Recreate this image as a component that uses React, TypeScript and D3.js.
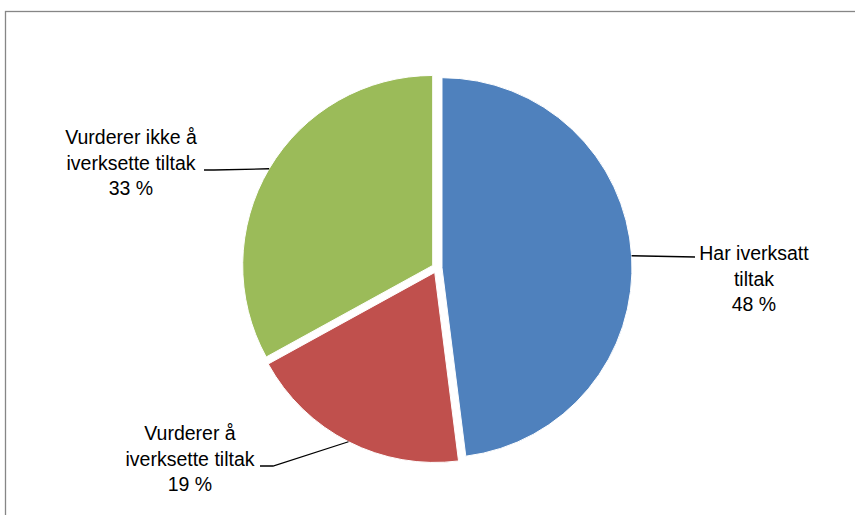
import React from 'react'
import * as d3 from 'd3'

const categories = ['Har iverksatt tiltak', 'Vurderer å iverksette tiltak', 'Vurderer ikke å iverksette tiltak']
const labelLines = [
  ['Har iverksatt', 'tiltak'],
  ['Vurderer å', 'iverksette tiltak'],
  ['Vurderer ikke å', 'iverksette tiltak'],
]
const values = [48, 19, 33]
const colors = ['#4F81BD', '#C0504D', '#9BBB59']

const W = 855
const H = 515
const cx = 437
const cy = 268
const R = 190
const explode = 5

// label layout: text center x, first baseline y, leader end point (with short elbow)
const labelLayout = [
  { x: 754, y: 260, end: [695, 257], elbow: null as null | [number, number] },
  { x: 190, y: 440, end: [260, 466], elbow: [273, 466] as [number, number] },
  { x: 131, y: 144, end: [204, 170], elbow: [214, 170] as [number, number] },
]

export default function App() {
  const pie = d3
    .pie<number>()
    .sort(null)
    .value((d) => d)
    .startAngle(0)
    .endAngle(2 * Math.PI)
  const arcs = pie(values)
  const arc = d3.arc<d3.PieArcDatum<number>>().innerRadius(0).outerRadius(R)
  const font = '"Liberation Sans", Arial, sans-serif'

  return (
    <svg
      width={W}
      height={H}
      style={{ position: 'absolute', left: 0, top: 0, background: '#fff' }}
    >
      <rect x={5.5} y={11.5} width={W + 20} height={H + 20} fill="#fff" stroke="#868686" strokeWidth={1.3} />
      <g transform={`translate(${cx},${cy})`}>
        {arcs.map((a, i) => {
          const mid = (a.startAngle + a.endAngle) / 2
          const ox = Math.sin(mid) * explode
          const oy = -Math.cos(mid) * explode
          return (
            <path
              key={categories[i]}
              d={arc(a) || ''}
              transform={`translate(${ox},${oy})`}
              fill={colors[i]}
              stroke="#fff"
              strokeWidth={1}
            />
          )
        })}
      </g>
      {arcs.map((a, i) => {
        const mid = (a.startAngle + a.endAngle) / 2
        const sx = cx + Math.sin(mid) * (R + explode)
        const sy = cy - Math.cos(mid) * (R + explode)
        const lay = labelLayout[i]
        const pts: [number, number][] = [[sx, sy]]
        if (lay.elbow) pts.push(lay.elbow)
        pts.push(lay.end as [number, number])
        const lines = [...labelLines[i], `${values[i]} %`]
        return (
          <g key={'lbl' + i}>
            <path d={d3.line()(pts) || ''} fill="none" stroke="#000" strokeWidth={1.3} />
            <text
              x={lay.x}
              y={lay.y}
              textAnchor="middle"
              fontFamily={font}
              fontSize={19.5}
              fill="#000"
            >
              {lines.map((t, j) => (
                <tspan key={j} x={lay.x} y={lay.y + j * 25.5}>
                  {t}
                </tspan>
              ))}
            </text>
          </g>
        )
      })}
    </svg>
  )
}
